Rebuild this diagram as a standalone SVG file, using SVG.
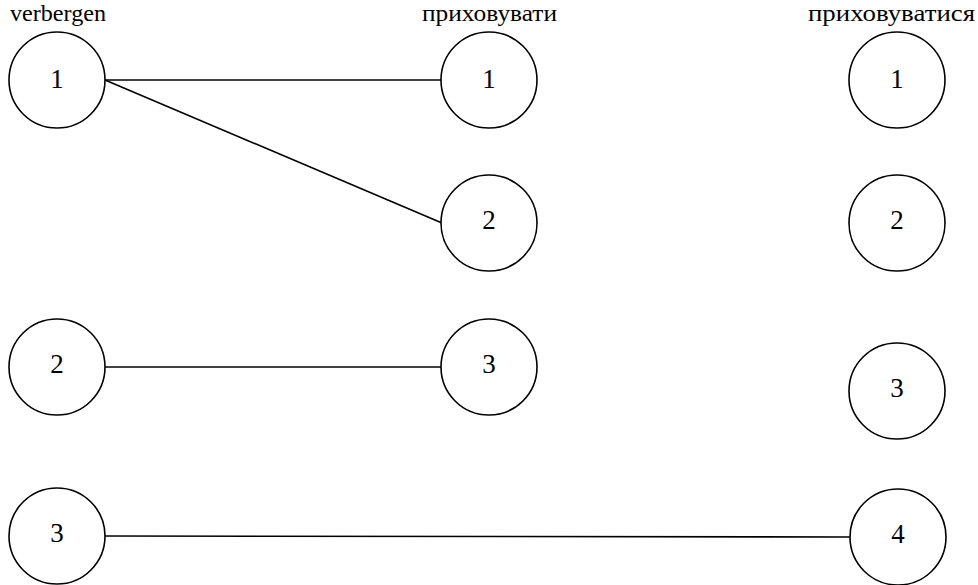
<svg xmlns="http://www.w3.org/2000/svg" width="978" height="585" viewBox="0 0 978 585">
  <style>
    .node circle { fill: #ffffff; stroke: #000000; stroke-width: 1.6; }
    .node text { font-family: 'Liberation Serif', 'Times New Roman', serif; font-size: 27px; fill: #000000; text-anchor: middle; }
    .head { font-family: 'Liberation Serif', 'Times New Roman', serif; font-size: 24px; fill: #000000; }
    #edges line { stroke: #000000; stroke-width: 1.6; }
  </style>
  <rect width="978" height="585" fill="#ffffff"/>

  <!-- column headings -->
  <text class="head" x="10" y="21" textLength="96" lengthAdjust="spacingAndGlyphs">verbergen</text>
  <text class="head" x="422" y="21" textLength="135" lengthAdjust="spacingAndGlyphs">приховувати</text>
  <text class="head" x="808" y="21" textLength="167" lengthAdjust="spacingAndGlyphs">приховуватися</text>

  <!-- links -->
  <g id="edges">
    <line x1="105" y1="80" x2="441" y2="80"/>
    <line x1="105" y1="80" x2="442" y2="223"/>
    <line x1="105" y1="367" x2="441" y2="367"/>
    <line x1="105" y1="536" x2="850" y2="537"/>
  </g>

  <!-- verbergen -->
  <g id="a1" class="node"><circle cx="57" cy="80" r="48"/><text x="57" y="88">1</text></g>
  <g id="a2" class="node"><circle cx="57" cy="367" r="48"/><text x="57" y="373">2</text></g>
  <g id="a3" class="node"><circle cx="57" cy="536" r="48"/><text x="57" y="542">3</text></g>

  <!-- приховувати -->
  <g id="b1" class="node"><circle cx="489" cy="80" r="48"/><text x="489" y="88">1</text></g>
  <g id="b2" class="node"><circle cx="489" cy="223" r="48"/><text x="489" y="229">2</text></g>
  <g id="b3" class="node"><circle cx="489" cy="367" r="48"/><text x="489" y="373">3</text></g>

  <!-- приховуватися -->
  <g id="c1" class="node"><circle cx="897" cy="80" r="48"/><text x="897" y="88">1</text></g>
  <g id="c2" class="node"><circle cx="897" cy="223" r="48"/><text x="897" y="229">2</text></g>
  <g id="c3" class="node"><circle cx="897" cy="391" r="48"/><text x="897" y="397">3</text></g>
  <g id="c4" class="node"><circle cx="898" cy="537" r="48"/><text x="898" y="543">4</text></g>
</svg>
